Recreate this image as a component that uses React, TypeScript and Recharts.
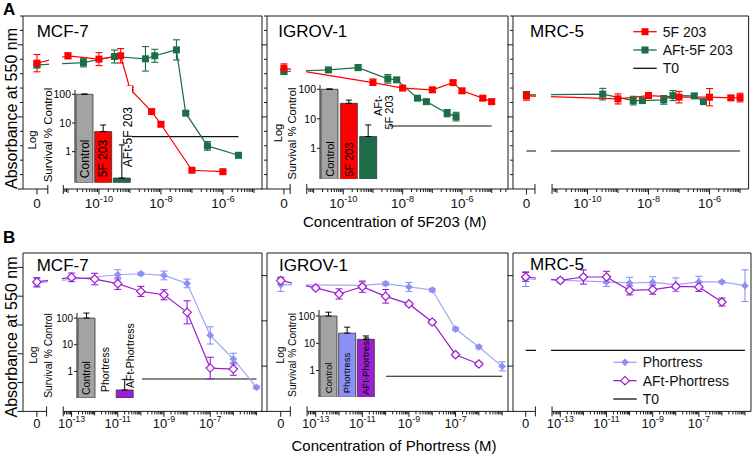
import React from "react";
import {
  ComposedChart,
  Line,
  XAxis,
  YAxis,
  ReferenceLine,
  ErrorBar,
  BarChart,
  Bar,
  Cell,
} from "recharts";

const FONT = "'Liberation Sans', Arial, Helvetica, sans-serif";
const AX = "#1a1a1a";
const RED = "#ff0000";
const GREEN = "#1d6e48";
const LILAC = "#8c90f4";
const LILAC_LINE = "#a3a6f6";
const PURPLE = "#9c1fd0";
const GREY_BAR = "#a3a3a3";

// concentrations are log10(M); untreated controls sit on the "0" stub of the broken axis
const ZERO_A = -12;
const ZERO_B = -14.5;

// ---------- A: 5F 203 vs AFt-5F 203 ----------
const mcf7A_5F_logM = [-11, -10, -9.3, -9, -8.3, -8, -7, -6];
const mcf7A_5F_abs = [0.924, 0.901, 0.924, 0.694, 0.537, 0.449, 0.13, 0.12];
const mcf7A_5F_err = [0.02, 0.045, 0.05, 0.01, 0.012, 0.015, 0.01, 0.01];
const mcf7A_5F_ctrl = [0.873, 0.06];
const mcf7A_AFt_logM = [-10.5, -9.5, -8.5, -8.2, -7.5, -7.2, -6.5, -5.5];
const mcf7A_AFt_abs = [0.877, 0.919, 0.903, 0.924, 0.965, 0.526, 0.299, 0.234];
const mcf7A_AFt_err = [0.03, 0.045, 0.085, 0.045, 0.07, 0.012, 0.03, 0.012];
const mcf7A_AFt_ctrl = [0.861, 0.02];
const mcf7A_T0 = 0.363;

const igrovA_5F_logM = [-9, -8, -7, -6.3, -6, -5.3, -5];
const igrovA_5F_abs = [0.738, 0.7, 0.688, 0.738, 0.681, 0.63, 0.606];
const igrovA_5F_err = [0.025, 0.015, 0.015, 0.015, 0.015, 0.015, 0.015];
const igrovA_5F_ctrl = [0.838, 0.03];
const igrovA_AFt_logM = [-10.5, -9.5, -8.5, -8.2, -7.5, -7.2, -6.5, -6.2];
const igrovA_AFt_abs = [0.826, 0.842, 0.764, 0.757, 0.63, 0.606, 0.526, 0.502];
const igrovA_AFt_err = [0.015, 0.02, 0.03, 0.015, 0.015, 0.015, 0.025, 0.03];
const igrovA_AFt_ctrl = [0.815, 0.02];
const igrovA_T0 = 0.4375;

const mrcA_5F_logM = [-9, -8, -7, -6, -5.3, -5];
const mrcA_5F_abs = [0.625, 0.648, 0.637, 0.637, 0.632, 0.634];
const mrcA_5F_err = [0.035, 0.02, 0.04, 0.06, 0.015, 0.03];
const mrcA_5F_ctrl = [0.646, 0.03];
const mrcA_AFt_logM = [-9.5, -8.5, -8.2, -7.5, -7.2, -6.5, -6.2];
const mrcA_AFt_abs = [0.658, 0.613, 0.613, 0.618, 0.648, 0.646, 0.606];
const mrcA_AFt_err = [0.04, 0.03, 0.015, 0.03, 0.035, 0.015, 0.015];
const mrcA_AFt_ctrl = [0.653, 0.02];
const mrcA_T0 = 0.264;

// ---------- B: Phortress vs AFt-Phortress ----------
const phLogM = [-11, -10, -9, -8, -7, -6, -5];
const aftLogM = [-13, -12, -11, -10, -9, -8, -7, -6];

const mcf7B_ph_abs = [0.949, 0.956, 0.944, 0.889, 0.528, 0.364, 0.167];
const mcf7B_ph_err = [0.035, 0.01, 0.03, 0.03, 0.06, 0.04, 0.01];
const mcf7B_ph_ctrl = [0.892, 0.03];
const mcf7B_aft_abs = [0.931, 0.919, 0.887, 0.833, 0.81, 0.688, 0.301, 0.294];
const mcf7B_aft_err = [0.03, 0.04, 0.04, 0.035, 0.035, 0.08, 0.075, 0.043];
const mcf7B_aft_ctrl = [0.899, 0.03];
const mcf7B_T0 = 0.225;

const igrovB_ph_abs = [1.114, 1.129, 1.1, 1.073, 0.728, 0.569, 0.398];
const igrovB_ph_err = [0.03, 0.015, 0.04, 0.015, 0.015, 0.015, 0.04];
const igrovB_ph_ctrl = [1.12, 0.06];
const igrovB_aft_abs = [1.091, 1.038, 1.102, 1.017, 0.95, 0.79, 0.501, 0.419];
const igrovB_aft_err = [0.015, 0.045, 0.05, 0.06, 0.015, 0.015, 0.015, 0.015];
const igrovB_aft_ctrl = [1.156, 0.03];
const igrovB_T0 = 0.31;

const mrcB_ph_abs = [1.144, 1.135, 1.141, 1.12, 1.144, 1.144, 1.111];
const mrcB_ph_err = [0.04, 0.05, 0.05, 0.06, 0.05, 0.01, 0.14];
const mrcB_ph_ctrl = [1.17, 0.066];
const mrcB_aft_abs = [1.158, 1.188, 1.188, 1.07, 1.076, 1.105, 1.1, 0.967];
const mrcB_aft_err = [0.02, 0.063, 0.05, 0.04, 0.04, 0.015, 0.04, 0.035];
const mrcB_aft_ctrl = [1.188, 0.04];
const mrcB_T0 = 0.539;

// ---------- insets: log survival % of control ----------
const insetA_names = ["Control", "5F 203", "AFt-5F 203"];
const insetA_names2 = ["Control", "5F 203", "AFt-\n5F 203"];
const mcf7A_surv = [100, 5, 0.12];
const mcf7A_survErr = [2, 3.5, 1.6];
const igrovA_surv = [100, 33.5, 2.5];
const igrovA_survErr = [3, 9.5, 3.7];

const insetB_names = ["Control", "Phortress", "AFt-Phortress"];
const mcf7B_surv = [100, null, 0.2];
const mcf7B_survErr = [54, null, 0.3];
const igrovB_surv = [100, 23.5, 14];
const igrovB_survErr = [38, 15.5, 4.6];

// axis ticks
const yTicksA = [0, 0.1, 0.2, 0.3, 0.4, 0.5, 0.6, 0.7, 0.8, 0.9, 1, 1.1, 1.2];
const yMajorA = [0, 0.5, 1];
const yTicksB1 = [0, 0.2, 0.4, 0.6, 0.8, 1];
const yTicksB23 = [0, 0.4, 0.8, 1.2];
const labeledA = [-10, -8, -6];
const labeledB = [-13, -11, -9, -7];

function series(ctrl: number[], zero: number, logM: number[], abs: number[], err: number[]) {
  return [
    { x: zero, y: ctrl[0], err: ctrl[1] },
    ...logM.map((x, i) => ({ x, y: abs[i], err: err[i] })),
  ];
}

function squareDot(fill: string) {
  return (p: any) => (
    <rect key={`sq-${p.index}`} x={p.cx - 3.5} y={p.cy - 3.5} width={7} height={7} fill={fill} />
  );
}

function diamondDot(stroke: string, fill: string, r: number) {
  return (p: any) => (
    <polygon
      key={`dm-${p.index}`}
      points={`${p.cx},${p.cy - r} ${p.cx + r},${p.cy} ${p.cx},${p.cy + r} ${p.cx - r},${p.cy}`}
      fill={fill}
      stroke={stroke}
      strokeWidth={1.2}
    />
  );
}

function buildXTicks(c: any) {
  const list: { v: number; kind: string; n?: number }[] = [
    { v: c.zero, kind: "zero" },
    { v: c.breakEnd, kind: "cap" },
    { v: c.mainStart, kind: "cap" },
  ];
  for (let n = Math.floor(c.mainStart); n < c.xMax; n++) {
    for (let k = 1; k <= 9; k++) {
      const v = n + Math.log10(k);
      if (v <= c.mainStart + 0.03 || v > c.xMax) continue;
      list.push({ v, n, kind: k === 1 ? (c.labeled.includes(n) ? "label" : "decade") : "minor" });
    }
  }
  return list;
}

function XTick({ x, y, payload, list, cfg }: any) {
  const t = list.find((d: any) => Math.abs(d.v - payload.value) < 1e-6);
  if (!t) return <g />;
  const f = cfg.tickFont;
  if (t.kind === "cap") return <line x1={x} x2={x} y1={y - 5} y2={y + 5} stroke={AX} />;
  if (t.kind === "minor") return <line x1={x} x2={x} y1={y} y2={y + 3} stroke={AX} />;
  if (t.kind === "decade") return <line x1={x} x2={x} y1={y} y2={y + 4} stroke={AX} />;
  return (
    <g>
      <line x1={x} x2={x} y1={y} y2={y + 5.5} stroke={AX} />
      <text x={x} y={y + cfg.labelDy} textAnchor="middle" fontSize={f} fill="#111">
        {t.kind === "zero" ? (
          "0"
        ) : (
          <>
            10
            <tspan fontSize={f * 0.68} dy={-f * 0.42}>
              {String(t.n)}
            </tspan>
          </>
        )}
      </text>
    </g>
  );
}

function YTick({ x, y, payload, major }: any) {
  const len = major.includes(payload.value) ? 5.5 : 3;
  return <line x1={x - len} x2={x} y1={y} y2={y} stroke={AX} />;
}

const M = { left: 12, top: 4, right: 4, bottom: 30 };

function CurvePanel({ cfg, lines, t0 }: any) {
  const ticks = buildXTicks(cfg);
  const t0End = Math.max(...lines.map((l: any) => Math.max(...l.data.map((d: any) => d.x))));
  const px = (v: number) => cfg.left + ((v - cfg.xMin) / (cfg.xMax - cfg.xMin)) * cfg.width;
  const gapL = px(cfg.breakEnd) + 1;
  const gapR = px(cfg.mainStart) - 1;
  return (
    <>
      <div style={{ position: "absolute", left: cfg.left - M.left, top: cfg.top - M.top }}>
        <ComposedChart
          width={cfg.width + M.left + M.right}
          height={cfg.height + M.top + M.bottom}
          margin={{ top: M.top, right: M.right, left: 0, bottom: 0 }}
        >
          <XAxis
            type="number"
            dataKey="x"
            domain={[cfg.xMin, cfg.xMax]}
            allowDataOverflow
            ticks={ticks.map((t) => t.v)}
            interval={0}
            axisLine={false}
            tickLine={false}
            tickSize={0}
            tickMargin={0}
            height={M.bottom}
            tick={(p: any) => <XTick {...p} list={ticks} cfg={cfg} />}
          />
          <YAxis
            type="number"
            domain={[0, cfg.yMax]}
            allowDataOverflow
            ticks={cfg.yTicks}
            interval={0}
            width={M.left}
            axisLine={{ stroke: AX }}
            tickLine={false}
            tickSize={0}
            tickMargin={0}
            tick={(p: any) => <YTick {...p} major={cfg.yMajor} />}
          />
          <ReferenceLine y={cfg.yMax} stroke={AX} />
          <ReferenceLine x={cfg.xMax} stroke={AX} />
          <ReferenceLine segment={[{ x: cfg.xMin, y: 0 }, { x: cfg.breakEnd, y: 0 }]} stroke={AX} />
          <ReferenceLine segment={[{ x: cfg.mainStart, y: 0 }, { x: cfg.xMax, y: 0 }]} stroke={AX} />
          <ReferenceLine segment={[{ x: cfg.zero, y: t0 }, { x: t0End, y: t0 }]} stroke="#111" strokeWidth={1.1} />
          {lines.map((s: any) => (
            <Line
              key={s.name}
              data={s.data}
              dataKey="y"
              type="linear"
              stroke={s.line}
              strokeWidth={1.2}
              dot={s.dot}
              activeDot={false}
              isAnimationActive={false}
            >
              <ErrorBar dataKey="err" direction="y" width={3.5} stroke={s.color} strokeWidth={1.1} isAnimationActive={false} />
            </Line>
          ))}
        </ComposedChart>
      </div>
      <div
        style={{
          position: "absolute",
          left: gapL,
          width: gapR - gapL,
          top: cfg.top + 1.5,
          height: cfg.height - 8,
          background: "#fff",
        }}
      />
    </>
  );
}

function BarName({ cx, bottom, name, pos, font }: any) {
  const lines = String(name).split("\n");
  const bx = cx + (pos.dx || 0) + font * 0.35;
  const by = bottom - pos.lift;
  return (
    <g>
      {lines.map((s, i) => (
        <text
          key={i}
          transform={`translate(${bx + i * font * 0.95},${by}) rotate(-90)`}
          textAnchor={pos.anchor || "start"}
          fontSize={font}
          fill="#000"
        >
          {s}
        </text>
      ))}
    </g>
  );
}

function Inset({ box, plot, domain, names, values, errs, colors, labelPos, labelFont, tickFont, logAt, survAt, axisFont }: any) {
  const [bl, bt, bw, bh] = box;
  const [pl, pt, pw, ph] = plot;
  const YW = 28;
  const PAD = 4;
  const data = names.map((name: string, i: number) => ({
    name,
    v: values[i],
    e: errs[i] == null ? null : [0, errs[i]],
  }));
  const band = pw / names.length;
  return (
    <div style={{ position: "absolute", left: bl, top: bt, width: bw, height: bh, background: "#fff" }}>
      <div style={{ position: "absolute", left: pl - bl - YW, top: pt - bt - PAD }}>
        <BarChart
          width={YW + pw + PAD}
          height={ph + PAD}
          data={data}
          margin={{ top: PAD, right: PAD, left: 0, bottom: 0 }}
        >
          <YAxis
            scale="log"
            type="number"
            domain={domain}
            allowDataOverflow
            ticks={[1, 10, 100]}
            interval={0}
            width={YW}
            axisLine={{ stroke: AX }}
            tickLine={{ stroke: AX }}
            tickSize={3}
            tickMargin={1}
            tick={{ fontSize: tickFont, fill: "#000" }}
          />
          <XAxis dataKey="name" height={0} axisLine={{ stroke: "#bdbdbd" }} tickLine={false} tick={false} />
          <Bar dataKey="v" barSize={Math.round(band - 2)} stroke="#333" strokeWidth={0.8} isAnimationActive={false}>
            {data.map((d: any, i: number) => (
              <Cell key={d.name} fill={colors[i]} />
            ))}
            <ErrorBar dataKey="e" direction="y" width={3} stroke="#000" strokeWidth={1} isAnimationActive={false} />
          </Bar>
        </BarChart>
      </div>
      <svg width={bw} height={bh} style={{ position: "absolute", left: 0, top: 0, overflow: "visible" }}>
        <text
          transform={`translate(${logAt[0] - bl},${logAt[1] - bt}) rotate(-90)`}
          textAnchor="middle"
          dominantBaseline="central"
          fontSize={axisFont}
        >
          Log
        </text>
        <text
          transform={`translate(${survAt[0] - bl},${survAt[1] - bt}) rotate(-90)`}
          textAnchor="middle"
          dominantBaseline="central"
          fontSize={axisFont}
        >
          Survival % Control
        </text>
        {names.map((n: string, i: number) => (
          <BarName
            key={n}
            cx={pl - bl + (i + 0.5) * band}
            bottom={pt - bt + ph}
            name={n}
            pos={labelPos[i]}
            font={labelFont}
          />
        ))}
      </svg>
    </div>
  );
}

function LegendRows({ x, y0, gap, rows }: any) {
  return (
    <>
      {rows.map((r: any, i: number) => {
        const y = y0 + i * gap;
        return (
          <g key={r.label}>
            <line x1={x} x2={x + 23.4} y1={y} y2={y} stroke={r.line} strokeWidth={1.3} />
            {r.marker ? r.marker({ cx: x + 11.7, cy: y, index: i }) : null}
            <text x={x + 29.4} y={y} dominantBaseline="central" fontSize={14} fill="#111">
              {r.label}
            </text>
          </g>
        );
      })}
    </>
  );
}

const cfgA1 = { left: 23, top: 16, width: 239, height: 173, xMin: -12.45, xMax: -4.74, yMax: 1.2, zero: ZERO_A, breakEnd: -11.65, mainStart: -11.15, labeled: labeledA, yTicks: yTicksA, yMajor: yMajorA, tickFont: 13.5, labelDy: 19 };
const cfgA2 = { ...cfgA1, left: 267.3, width: 241, xMin: -12.57, xMax: -4.45, breakEnd: -11.79, mainStart: -11.23 };
const cfgA3 = { ...cfgA1, left: 512.7, width: 235.6, xMin: -12.44, xMax: -4.72, breakEnd: -11.72, mainStart: -11.16 };
const cfgB1 = { left: 23, top: 253.3, width: 239, height: 158.4, xMin: -15.1, xMax: -4.76, yMax: 1.1, zero: ZERO_B, breakEnd: -14.08, mainStart: -13.36, labeled: labeledB, yTicks: yTicksB1, yMajor: yTicksB1, tickFont: 13, labelDy: 16.5 };
const cfgB2 = { ...cfgB1, left: 267.3, width: 241, xMin: -15.09, xMax: -4.75, breakEnd: -14.09, mainStart: -13.37, yMax: 1.4, yTicks: yTicksB23, yMajor: yTicksB23 };
const cfgB3 = { ...cfgB2, left: 512.7, width: 238, xMin: -15.05, xMax: -4.74, breakEnd: -14.08, mainStart: -13.36 };

const redSq = squareDot(RED);
const greenSq = squareDot(GREEN);
const lilacDm = diamondDot(LILAC, LILAC, 3);
const purpleDm = diamondDot(PURPLE, "#fff", 4.2);

function aLines(ctrl5: number[], x5: number[], y5: number[], e5: number[], ctrlA: number[], xA: number[], yA: number[], eA: number[]) {
  return [
    { name: "AFt-5F 203", data: series(ctrlA, ZERO_A, xA, yA, eA), color: GREEN, line: GREEN, dot: greenSq },
    { name: "5F 203", data: series(ctrl5, ZERO_A, x5, y5, e5), color: RED, line: RED, dot: redSq },
  ];
}

function bLines(ctrlP: number[], yP: number[], eP: number[], ctrlA: number[], yA: number[], eA: number[]) {
  return [
    { name: "Phortress", data: series(ctrlP, ZERO_B, phLogM, yP, eP), color: LILAC, line: LILAC_LINE, dot: lilacDm },
    { name: "AFt-Phortress", data: series(ctrlA, ZERO_B, aftLogM, yA, eA), color: PURPLE, line: PURPLE, dot: purpleDm },
  ];
}

export default function App() {
  return (
    <div
      style={{
        position: "absolute",
        left: 0,
        top: 0,
        width: 753,
        height: 457,
        background: "#fff",
        overflow: "hidden",
        fontFamily: FONT,
      }}
    >
      <CurvePanel cfg={cfgA1} t0={mcf7A_T0} lines={aLines(mcf7A_5F_ctrl, mcf7A_5F_logM, mcf7A_5F_abs, mcf7A_5F_err, mcf7A_AFt_ctrl, mcf7A_AFt_logM, mcf7A_AFt_abs, mcf7A_AFt_err)} />
      <CurvePanel cfg={cfgA2} t0={igrovA_T0} lines={aLines(igrovA_5F_ctrl, igrovA_5F_logM, igrovA_5F_abs, igrovA_5F_err, igrovA_AFt_ctrl, igrovA_AFt_logM, igrovA_AFt_abs, igrovA_AFt_err)} />
      <CurvePanel cfg={cfgA3} t0={mrcA_T0} lines={aLines(mrcA_5F_ctrl, mrcA_5F_logM, mrcA_5F_abs, mrcA_5F_err, mrcA_AFt_ctrl, mrcA_AFt_logM, mrcA_AFt_abs, mrcA_AFt_err)} />
      <CurvePanel cfg={cfgB1} t0={mcf7B_T0} lines={bLines(mcf7B_ph_ctrl, mcf7B_ph_abs, mcf7B_ph_err, mcf7B_aft_ctrl, mcf7B_aft_abs, mcf7B_aft_err)} />
      <CurvePanel cfg={cfgB2} t0={igrovB_T0} lines={bLines(igrovB_ph_ctrl, igrovB_ph_abs, igrovB_ph_err, igrovB_aft_ctrl, igrovB_aft_abs, igrovB_aft_err)} />
      <CurvePanel cfg={cfgB3} t0={mrcB_T0} lines={bLines(mrcB_ph_ctrl, mrcB_ph_abs, mrcB_ph_err, mrcB_aft_ctrl, mrcB_aft_abs, mrcB_aft_err)} />

      <Inset
        box={[26, 86, 106, 99]}
        plot={[75, 90, 56, 92.7]}
        domain={[0.083, 141]}
        names={insetA_names}
        values={mcf7A_surv}
        errs={mcf7A_survErr}
        colors={[GREY_BAR, RED, GREEN]}
        labelPos={[{ lift: 4.5 }, { lift: 5.5 }, { lift: 15.5, dx: 6.5 }]}
        labelFont={12}
        tickFont={10.5}
        axisFont={11.5}
        logAt={[31.7, 140]}
        survAt={[48.3, 135]}
      />
      <Inset
        box={[272, 86, 118, 96]}
        plot={[320, 85, 58, 94.3]}
        domain={[0.089, 140]}
        names={insetA_names2}
        values={igrovA_surv}
        errs={igrovA_survErr}
        colors={[GREY_BAR, RED, GREEN]}
        labelPos={[{ lift: 2.6 }, { lift: 2.6 }, { lift: 84, dx: 10, anchor: "end" }]}
        labelFont={11}
        tickFont={10.5}
        axisFont={11.2}
        logAt={[278.3, 133]}
        survAt={[291.7, 133.5]}
      />
      <Inset
        box={[27, 309, 115, 92]}
        plot={[76.7, 313.3, 57.3, 85]}
        domain={[0.1, 155]}
        names={insetB_names}
        values={mcf7B_surv}
        errs={mcf7B_survErr}
        colors={[GREY_BAR, LILAC, PURPLE]}
        labelPos={[{ lift: 3.3 }, { lift: 6.3 }, { lift: 10.3, dx: 5.5 }]}
        labelFont={10.5}
        tickFont={10}
        axisFont={10.3}
        logAt={[33.3, 355]}
        survAt={[48.3, 355.5]}
      />
      <Inset
        box={[272, 306, 114, 94]}
        plot={[319, 310, 56, 87.3]}
        domain={[0.105, 166]}
        names={insetB_names}
        values={igrovB_surv}
        errs={igrovB_survErr}
        colors={[GREY_BAR, LILAC, PURPLE]}
        labelPos={[{ lift: 4 }, { lift: 4 }, { lift: 2.3 }]}
        labelFont={9.5}
        tickFont={10}
        axisFont={10.2}
        logAt={[280, 355]}
        survAt={[292.3, 355]}
      />

      <svg width={753} height={457} style={{ position: "absolute", left: 0, top: 0, pointerEvents: "none" }}>
        <text x={3} y={15} fontSize={17} fontWeight="bold">A</text>
        <text x={3} y={243.3} fontSize={17} fontWeight="bold">B</text>
        <text transform="translate(11.5,108.5) rotate(-90)" textAnchor="middle" dominantBaseline="central" fontSize={16}>
          Absorbance at 550 nm
        </text>
        <text transform="translate(11.5,337) rotate(-90)" textAnchor="middle" dominantBaseline="central" fontSize={16}>
          Absorbance at 550 nm
        </text>
        <text x={394.7} y={227} textAnchor="middle" fontSize={15}>Concentration of 5F203 (M)</text>
        <text x={394} y={451} textAnchor="middle" fontSize={15}>Concentration of Phortress (M)</text>

        <text x={36.7} y={37.3} fontSize={17}>MCF-7</text>
        <text x={278.3} y={37.3} fontSize={17}>IGROV-1</text>
        <text x={530} y={37.3} fontSize={17}>MRC-5</text>
        <text x={36.7} y={270.7} fontSize={17}>MCF-7</text>
        <text x={279} y={270.7} fontSize={17}>IGROV-1</text>
        <text x={530} y={270} fontSize={17}>MRC-5</text>

        <LegendRows
          x={633.3}
          y0={31.7}
          gap={18.3}
          rows={[
            { label: "5F 203", line: RED, marker: redSq },
            { label: "AFt-5F 203", line: GREEN, marker: greenSq },
            { label: "T0", line: "#111" },
          ]}
        />
        <LegendRows
          x={613.3}
          y0={362.3}
          gap={18.35}
          rows={[
            { label: "Phortress", line: LILAC_LINE, marker: lilacDm },
            { label: "AFt-Phortress", line: PURPLE, marker: purpleDm },
            { label: "T0", line: "#111" },
          ]}
        />
      </svg>
    </div>
  );
}
